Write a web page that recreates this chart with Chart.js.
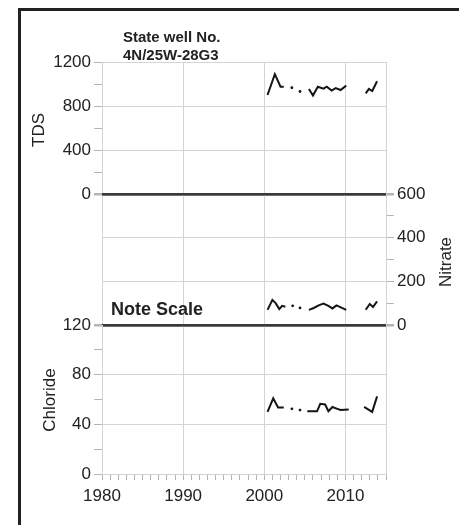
<!DOCTYPE html>
<html>
<head>
<meta charset="utf-8">
<script src="https://cdn.jsdelivr.net/npm/chart.js@4.4.0/dist/chart.umd.min.js"></script>
<style>
  body { margin: 0; width: 459px; height: 525px; overflow: hidden; position: relative; background: #fff;
         font-family: "Liberation Sans", Arial, sans-serif; color: #222; }
  .frame { position: absolute; left: 18px; top: 8px; width: 480px; height: 560px;
           border-left: 3px solid #222; border-top: 3px solid #222; }
  canvas { position: absolute; left: 0; }
  .txt { position: absolute; white-space: nowrap; }
  .head { left: 123px; top: 28px; font-size: 15px; font-weight: bold; line-height: 18px; }
  .note { left: 111px; top: 299px; font-size: 18px; font-weight: bold; line-height: 20px; }
  .ytitle { font-size: 17px; transform: translate(-50%, -50%) rotate(-90deg); }
</style>
</head>
<body>
<div class="frame"></div>
<canvas id="tds" width="459" height="160" style="top:48px"></canvas>
<canvas id="nitrate" width="459" height="159" style="top:180px"></canvas>
<canvas id="chloride" width="459" height="203" style="top:311px"></canvas>

<div class="txt head">State well No.<br>4N/25W-28G3</div>
<div class="txt note">Note Scale</div>
<div class="txt ytitle" style="left:39px; top:130px">TDS</div>
<div class="txt ytitle" style="left:446px; top:262px">Nitrate</div>
<div class="txt ytitle" style="left:50px; top:400px">Chloride</div>

<script>
// x axis
const xTickLabels = [1980, 1990, 2000, 2010];

// TDS (null = gap in record)
const tdsYears  = [2000.4, 2001.3, 2002.0, 2002.4, 2002.9, 2003.4, 2003.9, 2004.4, 2005.0,
                   2005.5, 2006.0, 2006.6, 2007.3, 2007.7, 2008.3, 2008.8, 2009.4, 2010.1,
                   2011.2, 2012.5, 2012.9, 2013.3, 2013.9];
const tdsValues = [900, 1090, 975, 975, null, 966, null, 932, null,
                   955, 895, 975, 958, 975, 940, 962, 945, 985,
                   null, 915, 955, 936, 1025];
const tdsTickLabels = [0, 400, 800, 1200];

// Nitrate
const nitrateYears  = [2000.4, 2001.0, 2001.4, 2001.85, 2002.2, 2002.6, 2003.1, 2003.5, 2003.9, 2004.4, 2005.0,
                       2005.5, 2006.1, 2006.7, 2007.3, 2007.9, 2008.4, 2008.9, 2009.5, 2010.1,
                       2011.2, 2012.5, 2013.0, 2013.4, 2013.9];
const nitrateValues = [69, 115, 100, 73, 88, 84, null, 88, null, 78, null,
                       69, 78, 90, 98, 88, 76, 90, 80, 69,
                       null, 70, 96, 82, 108];
const nitrateTickLabels = [0, 200, 400, 600];

// Chloride
const chlorideYears  = [2000.4, 2001.1, 2001.7, 2002.4, 2002.9, 2003.4, 2003.9, 2004.4, 2005.0,
                        2005.3, 2006.5, 2006.9, 2007.5, 2007.9, 2008.4, 2009.0, 2009.4, 2010.4,
                        2011.3, 2012.3, 2013.3, 2013.9];
const chlorideValues = [50, 61, 53.5, 53.5, null, 52.5, null, 51.5, null,
                        50.5, 50.5, 56.5, 56, 50.5, 54, 52.5, 51.5, 52,
                        null, 54, 50, 62.5];
const chlorideTickLabels = [0, 40, 80, 120];

const INK = '#151515';
const GRID = '#d4d4d4';
const RULE = '#3a3a3a';
const TICK_FONT = { family: '"Liberation Sans", Arial, sans-serif', size: 17 };

function xScale(showLabels) {
  return {
    type: 'linear', min: 1980, max: 2015,
    border: { display: showLabels, color: GRID },
    grid: {
      color: c => (xTickLabels.includes(c.tick.value) || c.tick.value === 2015) ? GRID : 'rgba(0,0,0,0)',
      tickColor: '#b4b4b4',
      drawTicks: showLabels,
      tickLength: 6,
    },
    ticks: {
      display: showLabels, stepSize: 1, autoSkip: false, maxRotation: 0,
      color: '#222', font: TICK_FONT, padding: 6,
      callback: v => xTickLabels.includes(v) ? String(v) : '',
    },
    afterFit: s => { s.height = showLabels ? 40 : 0; },
  };
}

function yScale(position, max, step, labels, rules) {
  return {
    position, min: 0, max,
    border: { display: true, color: GRID },
    grid: {
      color: c => rules.includes(c.tick.value) ? RULE
        : labels.includes(c.tick.value) ? GRID : 'rgba(0,0,0,0)',
      lineWidth: c => rules.includes(c.tick.value) ? 2.5 : 1,
      tickColor: '#b4b4b4',
      tickLength: 8,
    },
    ticks: {
      stepSize: step, autoSkip: false, color: '#222', font: TICK_FONT, padding: 3,
      callback: v => labels.includes(v) ? String(v) : '',
    },
    afterFit: s => { s.width = position === 'left' ? 102 : 73; },
  };
}

function series(years, values) {
  return {
    data: years.map((x, i) => ({ x, y: values[i] })),
    borderColor: INK,
    borderWidth: 2,
    backgroundColor: INK,
    spanGaps: false,
    tension: 0,
    // lone samples between gaps show as dots
    pointRadius: c => {
      const i = c.dataIndex;
      const isolated = values[i] != null && values[i - 1] == null && values[i + 1] == null;
      return isolated ? 1.4 : 0;
    },
    pointBorderWidth: 0,
  };
}

function panel(id, dataset, scales, padding) {
  return new Chart(document.getElementById(id), {
    type: 'line',
    data: { datasets: [dataset] },
    options: {
      responsive: false,
      animation: false,
      layout: { padding },
      plugins: { legend: { display: false }, tooltip: { enabled: false } },
      scales,
    },
  });
}

panel('tds', series(tdsYears, tdsValues),
  { x: xScale(false), y: yScale('left', 1200, 200, tdsTickLabels, [0]) },
  { left: 0, right: 73, top: 14, bottom: 14 });

panel('nitrate', series(nitrateYears, nitrateValues),
  { x: xScale(false), y: yScale('right', 600, 100, nitrateTickLabels, [0, 600]) },
  { left: 102, right: 0, top: 14, bottom: 14 });

panel('chloride', series(chlorideYears, chlorideValues),
  { x: xScale(true), y: yScale('left', 120, 20, chlorideTickLabels, [120]) },
  { left: 0, right: 73, top: 14, bottom: 0 });
</script>
</body>
</html>
